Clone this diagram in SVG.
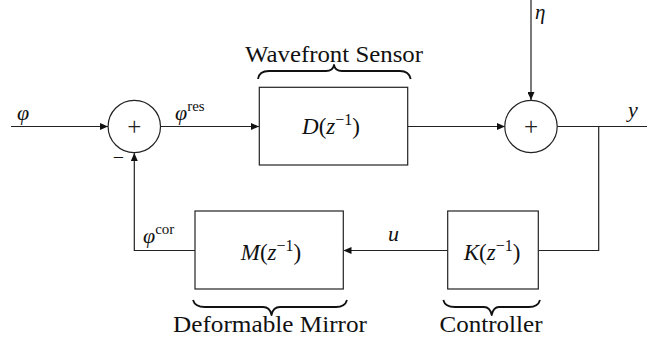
<svg xmlns="http://www.w3.org/2000/svg" width="647" height="343" viewBox="0 0 647 343">
<style>
.ln{fill:none;stroke:#222;stroke-width:1.2}
.bx{fill:#fff;stroke:#222;stroke-width:1.2}
.br{fill:none;stroke:#111;stroke-width:1.8;stroke-linejoin:round}
</style>
<defs>
<marker id="ar" markerUnits="userSpaceOnUse" markerWidth="8" markerHeight="7" refX="8" refY="3.5" orient="auto">
<path d="M0,0 L8,3.5 L0,7 z" fill="#111"/>
</marker>
</defs>
<g id="connectors">
<path class="ln" d="M11,126.5 L108,126.5" marker-end="url(#ar)"/>
<path class="ln" d="M160.5,126.5 L259,126.5" marker-end="url(#ar)"/>
<path class="ln" d="M407.7,126.5 L505,126.5" marker-end="url(#ar)"/>
<path class="ln" d="M531,0 L531,100" marker-end="url(#ar)"/>
<path class="ln" d="M557.2,126.5 L647,126.5"/>
<path class="ln" d="M598.7,126.5 L598.7,250.5 L538.3,250.5"/>
<path class="ln" d="M447.7,250.5 L343.5,250.5" marker-end="url(#ar)"/>
<path class="ln" d="M195,250.5 L134.3,250.5 L134.3,153" marker-end="url(#ar)"/>
</g>
<g font-family="Liberation Serif, DejaVu Serif, serif" fill="#111">
<g id="sum1">
<circle class="bx" cx="134.3" cy="126.5" r="26.2"/>
<text x="134.3" y="135" font-size="25" text-anchor="middle" fill="#222">+</text>
<text x="118.5" y="164" font-size="20" text-anchor="middle">−</text>
</g>
<g id="sum2">
<circle class="bx" cx="531" cy="126.5" r="26.2"/>
<text x="531" y="135" font-size="25" text-anchor="middle" fill="#222">+</text>
</g>
<g id="wfs">
<rect class="bx" x="259.3" y="87.3" width="148.4" height="77.7"/>
<text x="331" y="134" font-size="23" font-style="italic" text-anchor="middle">D<tspan font-style="normal">(</tspan>z<tspan font-style="normal" font-size="16" dy="-9">−1</tspan><tspan font-style="normal" dy="9">)</tspan></text>
<path class="br" d="M258,79 Q259,71 269,71 L326,71 Q333,71 334,65 Q335,71 342,71 L400,71 Q409,71 410.7,79"/>
<text x="334" y="62" font-size="23" text-anchor="middle" textLength="178" lengthAdjust="spacingAndGlyphs">Wavefront Sensor</text>
</g>
<g id="dm">
<rect class="bx" x="195" y="211" width="148.3" height="78"/>
<text x="271" y="260" font-size="23" font-style="italic" text-anchor="middle">M<tspan font-style="normal">(</tspan>z<tspan font-style="normal" font-size="16" dy="-9">−1</tspan><tspan font-style="normal" dy="9">)</tspan></text>
<path class="br" d="M193,300 Q195,307 205,307 L263,307 Q270,307 271.5,315 Q273,307 280,307 L336,307 Q345,307 347,300"/>
<text x="270" y="332" font-size="23" text-anchor="middle" textLength="194" lengthAdjust="spacingAndGlyphs">Deformable Mirror</text>
</g>
<g id="ctrl">
<rect class="bx" x="447.7" y="211" width="90.6" height="78"/>
<text x="492" y="260" font-size="23" font-style="italic" text-anchor="middle">K<tspan font-style="normal">(</tspan>z<tspan font-style="normal" font-size="16" dy="-9">−1</tspan><tspan font-style="normal" dy="9">)</tspan></text>
<path class="br" d="M443.3,300 Q445,307 455,307 L484,307 Q490,307 491.7,315 Q493.4,307 499,307 L529,307 Q538,307 540,300"/>
<text x="491" y="332" font-size="23" text-anchor="middle" textLength="103" lengthAdjust="spacingAndGlyphs">Controller</text>
</g>
<g id="labels" font-size="22" font-style="italic">
<text x="17" y="120">φ</text>
<text x="175" y="120">φ<tspan font-style="normal" font-size="15" dy="-9">res</tspan></text>
<text x="535" y="19" font-size="21">η</text>
<text x="628" y="117">y</text>
<text x="388" y="241">u</text>
<text x="143" y="243">φ<tspan font-style="normal" font-size="15" dy="-9">cor</tspan></text>
</g>
</g>
</svg>
